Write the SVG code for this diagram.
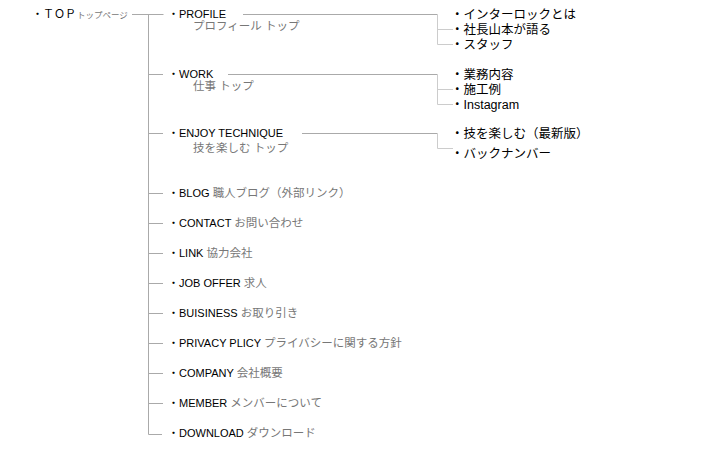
<svg xmlns="http://www.w3.org/2000/svg" width="701" height="452" viewBox="0 0 701 452">
<style>
.t{font-family:"Liberation Sans","Noto Sans CJK JP",sans-serif;font-size:11px;fill:#000}
.r{font-size:12.5px}
.g{fill:#777;font-size:11.5px}
.s{font-size:8.5px}
.l{stroke:#aaa;stroke-width:1;fill:none}
.b{stroke:#ccc;stroke-width:1;fill:none}
</style>
<rect width="701" height="452" fill="#fff"/>
<g id="connectors">
<path class="l" d="M132 14.5H163.5M148.5 14.5V434.5H162"/>
<path class="l" d="M148.5 74.5H163M148.5 133.5H163M148.5 193.5H163M148.5 223.5H163M148.5 253.5H163M148.5 283.5H163M148.5 313.5H163M148.5 343.5H163M148.5 373.5H163M148.5 403.5H163"/>
<path class="l" d="M243 14.5H437.5M228 74.5H437.5M302 133.5H437.5"/>
<path class="b" d="M437.5 14.5V44.5H453M437.5 29.5H453M437.5 74.5V104.5H453M437.5 89.5H453M437.5 133.5V148.5H453"/>
</g>
<g id="top"><text class="t" x="32" y="18" font-size="10.5">・ＴＯＰ<tspan class="g s" dx="1">トップページ</tspan></text></g>
<g id="profile"><text class="t" x="168" y="18">・PROFILE</text><text class="t g" x="193" y="30">プロフィール トップ</text></g>
<g id="profile-1"><text class="t r" x="451" y="18.5">・インターロックとは</text></g>
<g id="profile-2"><text class="t r" x="451" y="33.5">・社長山本が語る</text></g>
<g id="profile-3"><text class="t r" x="451" y="48.5">・スタッフ</text></g>
<g id="work"><text class="t" x="168" y="78">・WORK</text><text class="t g" x="193" y="90">仕事 トップ</text></g>
<g id="work-1"><text class="t r" x="451" y="78.5">・業務内容</text></g>
<g id="work-2"><text class="t r" x="451" y="93.5">・施工例</text></g>
<g id="work-3"><text class="t r" x="451" y="108.5">・Instagram</text></g>
<g id="enjoy"><text class="t" x="168" y="137">・ENJOY TECHNIQUE</text><text class="t g" x="193" y="152">技を楽しむ トップ</text></g>
<g id="enjoy-1"><text class="t r" x="451" y="137.5">・技を楽しむ（最新版）</text></g>
<g id="enjoy-2"><text class="t r" x="451" y="157.5">・バックナンバー</text></g>
<g id="blog"><text class="t" x="168" y="197">・BLOG <tspan class="g">職人ブログ（外部リンク）</tspan></text></g>
<g id="contact"><text class="t" x="168" y="227">・CONTACT <tspan class="g">お問い合わせ</tspan></text></g>
<g id="link"><text class="t" x="168" y="257">・LINK <tspan class="g">協力会社</tspan></text></g>
<g id="job"><text class="t" x="168" y="287">・JOB OFFER <tspan class="g">求人</tspan></text></g>
<g id="business"><text class="t" x="168" y="317">・BUISINESS <tspan class="g">お取り引き</tspan></text></g>
<g id="privacy"><text class="t" x="168" y="347">・PRIVACY PLICY <tspan class="g">プライバシーに関する方針</tspan></text></g>
<g id="company"><text class="t" x="168" y="377">・COMPANY <tspan class="g">会社概要</tspan></text></g>
<g id="member"><text class="t" x="168" y="407">・MEMBER <tspan class="g">メンバーについて</tspan></text></g>
<g id="download"><text class="t" x="168" y="437">・DOWNLOAD <tspan class="g">ダウンロード</tspan></text></g>
</svg>
